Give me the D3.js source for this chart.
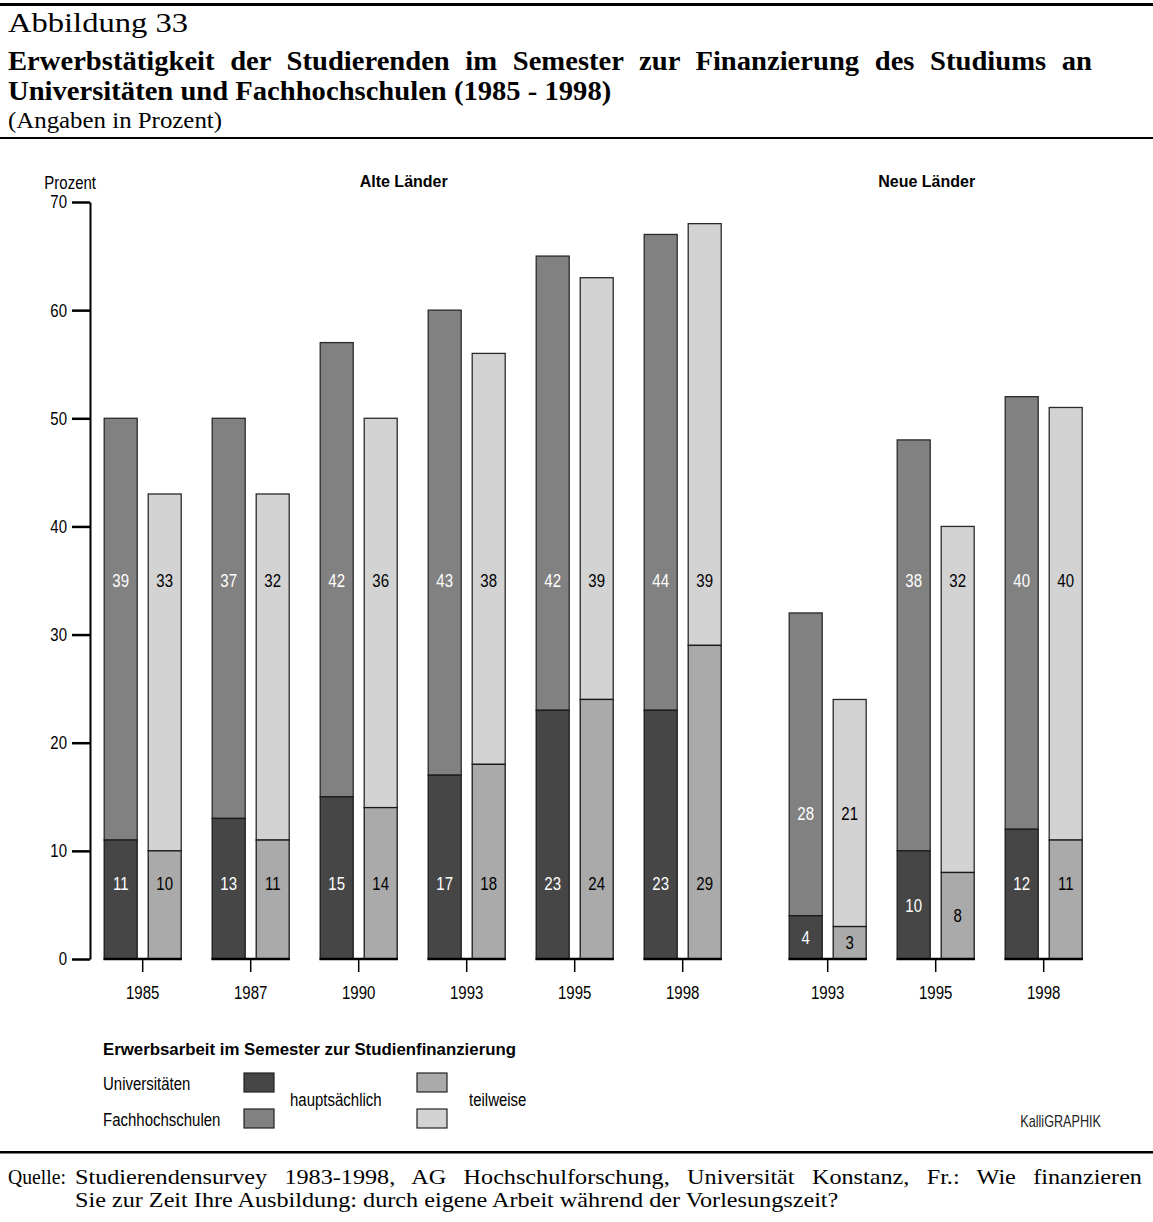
<!DOCTYPE html>
<html><head><meta charset="utf-8">
<script src="https://cdn.jsdelivr.net/npm/d3@7"></script>
<style>body{margin:0;background:#fff}svg{display:block}</style>
</head><body>
<script>
// ---- data ----
const alteYears = ["1985","1987","1990","1993","1995","1998"];
const alteUniHaupt = [11,13,15,17,23,23];
const alteFhHaupt  = [39,37,42,43,42,44];
const alteUniTeil  = [10,11,14,18,24,29];
const alteFhTeil   = [33,32,36,38,39,39];
const neueYears = ["1993","1995","1998"];
const neueUniHaupt = [4,10,12];
const neueFhHaupt  = [28,38,40];
const neueUniTeil  = [3,8,11];
const neueFhTeil   = [21,32,40];
const yTicks = [0,10,20,30,40,50,60,70];
const regionTitles = ["Alte Länder","Neue Länder"];

const W=1153,H=1222;
const svg=d3.select("body").append("svg").attr("width",W).attr("height",H);
const serif="'Liberation Serif','Times New Roman',serif";
const sans="'Liberation Sans',Arial,sans-serif";
const SX=0.81, FS=18.5;

function txt(parent,x,yy,s,o={}){
  const sx=o.sx??SX;
  const t=parent.append("text")
    .attr("transform",`translate(${x},${yy}) scale(${sx},1)`)
    .attr("text-anchor",o.anchor||"start")
    .attr("font-family",o.family||sans)
    .attr("font-size",o.size||FS)
    .attr("fill",o.fill||"#000")
    .text(s);
  if(o.weight) t.attr("font-weight",o.weight);
  if(o.dy) t.attr("dy",o.dy);
  if(o.len) t.attr("textLength",o.len/sx).attr("lengthAdjust",o.adj||"spacingAndGlyphs");
  if(o.justify){
    const L=t.node().getComputedTextLength();
    const n=(String(s).match(/ /g)||[]).length;
    if(n>0) t.attr("word-spacing",((o.justify/sx-L)/n).toFixed(2));
  }
  return t;
}

// header
svg.append("rect").attr("x",0).attr("y",3).attr("width",W).attr("height",3).attr("fill","#000");
txt(svg,8,32,"Abbildung 33",{family:serif,size:28,sx:1,len:180});
txt(svg,8,70,"Erwerbstätigkeit der Studierenden im Semester zur Finanzierung des Studiums an",{family:serif,size:27,weight:"bold",sx:1.06,justify:1084});
txt(svg,8,100,"Universitäten und Fachhochschulen (1985 - 1998)",{family:serif,size:27,weight:"bold",sx:1.06});
txt(svg,8,128,"(Angaben in Prozent)",{family:serif,size:23,sx:1,len:214});
svg.append("rect").attr("x",0).attr("y",137).attr("width",W).attr("height",2).attr("fill","#000");

// scales
const y=d3.scaleLinear().domain([0,70]).range([959,202]);
const xAlte=d3.scalePoint().domain(alteYears).range([142.7,682.7]);
const xNeue=d3.scalePoint().domain(neueYears).range([827.7,1043.7]);
const inner=d3.scaleBand().domain(["haupt","teil"]).range([-38.5,38.5]).paddingInner(0.25);

const col={uh:"#464646",fh:"#818181",ut:"#aaaaaa",ft:"#d3d3d3"};

// y axis
const ax=svg.append("g").attr("transform","translate(90,0)")
  .call(d3.axisLeft(y).tickValues(yTicks).tickSize(18).tickSizeOuter(0).tickPadding(5));
ax.select(".domain").attr("stroke","#000").attr("stroke-width",2);
ax.selectAll(".tick line").attr("stroke","#000").attr("stroke-width",2.5);
ax.selectAll(".tick text").attr("font-family",sans).attr("font-size",FS).attr("fill","#000")
  .attr("x",-23/SX).attr("transform",`scale(${SX},1)`);
txt(svg,96,189,"Prozent",{anchor:"end"});

function region(years,x,uh,fh,ut,ft,title){
  const groups=years.map((yr,i)=>({yr,uh:uh[i],fh:fh[i],ut:ut[i],ft:ft[i]}));
  const g=svg.append("g");
  groups.forEach(d=>{
    const cx=x(d.yr);
    const bars=[
      {key:"haupt",bot:d.uh,top:d.fh,cb:col.uh,ct:col.fh,tb:"#fff",tt:"#fff"},
      {key:"teil",bot:d.ut,top:d.ft,cb:col.ut,ct:col.ft,tb:"#000",tt:"#000"}];
    const tall=Math.min(d.uh+d.fh,d.ut+d.ft)>=40;
    const minTopSeg=(d.uh+d.fh<d.ut+d.ft)?[d.uh,d.uh+d.fh]:[d.ut,d.ut+d.ft];
    const topLabelV=tall?35:(minTopSeg[0]+minTopSeg[1])/2;
    const bothBig=Math.min(d.uh,d.ut)>=10;
    bars.forEach(b=>{
      const x0=cx+inner(b.key),bw=inner.bandwidth();
      g.append("rect").attr("x",x0).attr("y",y(b.bot+b.top)).attr("width",bw).attr("height",y(b.bot)-y(b.bot+b.top))
        .attr("fill",b.ct).attr("stroke","#2a2a2a").attr("stroke-width",1.3);
      g.append("rect").attr("x",x0).attr("y",y(b.bot)).attr("width",bw).attr("height",y(0)-y(b.bot))
        .attr("fill",b.cb).attr("stroke","#1a1a1a").attr("stroke-width",1.3);
      const botV=bothBig?7:b.bot/2;
      txt(g,x0+bw/2,y(botV),b.bot,{anchor:"middle",fill:b.tb,dy:"0.36em"});
      txt(g,x0+bw/2,y(topLabelV),b.top,{anchor:"middle",fill:b.tt,dy:"0.36em"});
    });
    g.append("line").attr("x1",cx+inner.range()[0]-0.7).attr("x2",cx+inner.range()[1]+0.7).attr("y1",y(0)).attr("y2",y(0))
      .attr("stroke","#000").attr("stroke-width",2.5);
    g.append("line").attr("x1",cx).attr("x2",cx).attr("y1",y(0)).attr("y2",y(0)+13).attr("stroke","#000").attr("stroke-width",1.5);
    txt(g,cx,999,d.yr,{anchor:"middle"});
  });
  const xs=x.range();
  txt(svg,(xs[0]+xs[1])/2-9,187,title,{anchor:"middle",weight:"bold",size:16,sx:1});
}
region(alteYears,xAlte,alteUniHaupt,alteFhHaupt,alteUniTeil,alteFhTeil,regionTitles[0]);
region(neueYears,xNeue,neueUniHaupt,neueFhHaupt,neueUniTeil,neueFhTeil,regionTitles[1]);

// legend
const lg=svg.append("g");
txt(lg,103,1055,"Erwerbsarbeit im Semester zur Studienfinanzierung",{weight:"bold",size:16,sx:1,len:413});
txt(lg,103,1090,"Universitäten");
txt(lg,103,1126,"Fachhochschulen");
[[244,1073,col.uh],[244,1109,col.fh],[417,1073,col.ut],[417,1109,col.ft]].forEach(s=>{
  lg.append("rect").attr("x",s[0]).attr("y",s[1]).attr("width",30).attr("height",19).attr("fill",s[2]).attr("stroke","#222").attr("stroke-width",1.2);
});
txt(lg,290,1106,"hauptsächlich");
txt(lg,469,1106,"teilweise");
txt(svg,1101,1127,"KalliGRAPHIK",{anchor:"end",size:16,sx:0.79,fill:"#222"});

// footer
svg.append("rect").attr("x",0).attr("y",1151).attr("width",W).attr("height",2.5).attr("fill","#000");
const ft=svg.append("g");
txt(ft,8,1184,"Quelle:",{family:serif,size:22,sx:1,len:58});
txt(ft,75,1184,"Studierendensurvey 1983-1998, AG Hochschulforschung, Universität Konstanz, Fr.: Wie finanzieren",{family:serif,size:22,sx:1.1,justify:1067});
txt(ft,75,1207,"Sie zur Zeit Ihre Ausbildung: durch eigene Arbeit während der Vorlesungszeit?",{family:serif,size:22,sx:1.1});
</script>
</body></html>
